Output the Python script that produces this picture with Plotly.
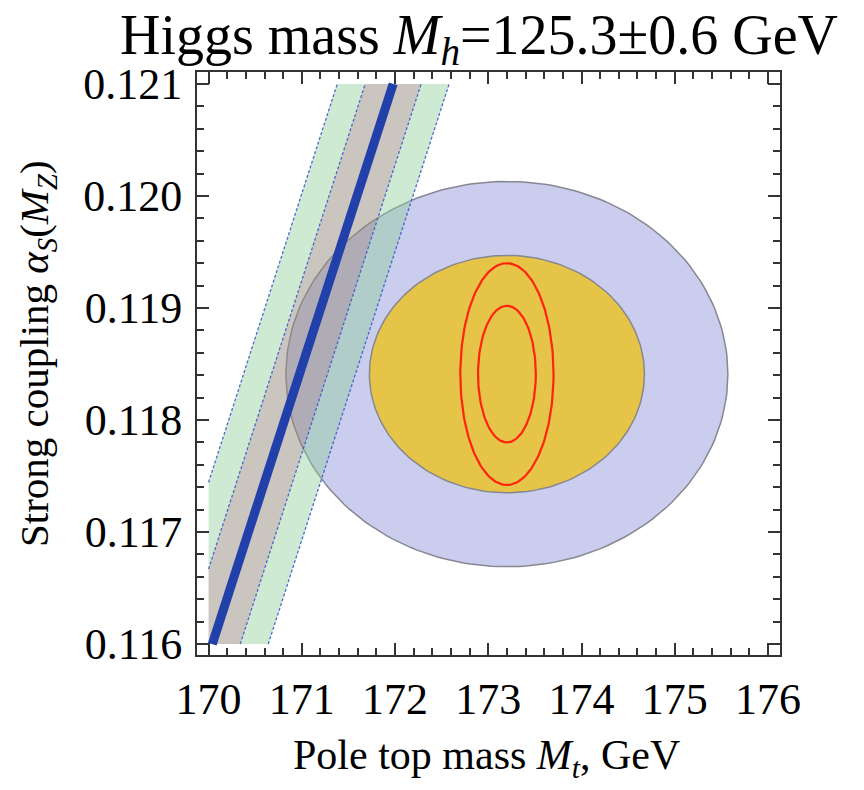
import numpy as np
import plotly.graph_objects as go

# ---------------- data ----------------
x_ticks = [170, 171, 172, 173, 174, 175, 176]
y_ticks = [0.116, 0.117, 0.118, 0.119, 0.120, 0.121]

# Higgs-mass line: pole top mass at alpha_s = 0.116 and 0.121
line_alpha = [0.116, 0.121]
line_mt = [170.04, 171.98]
band_1sigma = 0.30   # half-width in GeV (grey band)
band_2sigma = 0.60   # half-width in GeV (green band)

# measured (Mt, alpha_s) ellipses: centre and semi-axes
meas_center = [173.2, 0.11841]
meas_68 = [1.475, 0.00106]
meas_95 = [2.37, 0.00172]

# future precision (red) ellipses
fut_center = [173.2, 0.11841]
fut_inner = [0.31, 0.00061]
fut_outer = [0.50, 0.00099]

x_range = [169.876, 176.129]
y_range = [0.115902, 0.121107]

FONT = "Liberation Serif"
PAGE = 8          # default page (body) margin of the browser
W, H = 864 - PAGE, 790 - PAGE


def line_x(a):
    return line_mt[0] + (line_mt[1] - line_mt[0]) * (a - line_alpha[0]) / (line_alpha[1] - line_alpha[0])


def clip_xmin(poly, xmin):
    out = []
    n = len(poly)
    for i in range(n):
        p, q = poly[i], poly[(i + 1) % n]
        pin, qin = p[0] >= xmin, q[0] >= xmin
        if pin:
            out.append(p)
        if pin != qin:
            t = (xmin - p[0]) / (q[0] - p[0])
            out.append((xmin, p[1] + t * (q[1] - p[1])))
    return out


def strip(w_lo, w_hi):
    a0, a1 = line_alpha
    poly = [(line_x(a0) + w_lo, a0), (line_x(a0) + w_hi, a0),
            (line_x(a1) + w_hi, a1), (line_x(a1) + w_lo, a1)]
    poly = clip_xmin(poly, x_ticks[0])
    return [p[0] for p in poly], [p[1] for p in poly]


def edge(w):
    a0, a1 = line_alpha
    x0, x1 = line_x(a0) + w, line_x(a1) + w
    if x0 < x_ticks[0]:
        t = (x_ticks[0] - x0) / (x1 - x0)
        a0 = a0 + t * (a1 - a0)
        x0 = x_ticks[0]
    return [x0, x1], [a0, a1]


def ellipse(c, s, n=200):
    t = np.linspace(0, 2 * np.pi, n)
    return c[0] + s[0] * np.cos(t), c[1] + s[1] * np.sin(t)


fig = go.Figure()

# ellipses
ex, ey = ellipse(meas_center, meas_95)
fig.add_trace(go.Scatter(x=ex, y=ey, mode="lines", fill="toself",
                         fillcolor="rgb(203,205,238)",
                         line=dict(color="rgb(135,135,145)", width=1.5),
                         hoverinfo="skip", showlegend=False))
ex, ey = ellipse(meas_center, meas_68)
fig.add_trace(go.Scatter(x=ex, y=ey, mode="lines", fill="toself",
                         fillcolor="rgb(229,196,72)",
                         line=dict(color="rgb(135,135,145)", width=1.5),
                         hoverinfo="skip", showlegend=False))
for s in (fut_outer, fut_inner):
    ex, ey = ellipse(fut_center, s)
    fig.add_trace(go.Scatter(x=ex, y=ey, mode="lines",
                             line=dict(color="rgb(255,35,10)", width=2.2),
                             hoverinfo="skip", showlegend=False))

# bands
green = "rgba(140,205,150,0.42)"
grey = "rgba(150,140,125,0.5)"
for lo, hi, col in [(-band_2sigma, -band_1sigma, green),
                    (band_1sigma, band_2sigma, green),
                    (-band_1sigma, band_1sigma, grey)]:
    bx, by = strip(lo, hi)
    fig.add_trace(go.Scatter(x=bx, y=by, mode="lines", fill="toself",
                             fillcolor=col, line=dict(width=0),
                             hoverinfo="skip", showlegend=False))
for w in (-band_2sigma, -band_1sigma, band_1sigma, band_2sigma):
    lx, ly = edge(w)
    fig.add_trace(go.Scatter(x=lx, y=ly, mode="lines",
                             line=dict(color="rgba(60,90,210,0.9)", width=1.3, dash="3px,2px"),
                             hoverinfo="skip", showlegend=False))

# central line
fig.add_trace(go.Scatter(x=line_mt, y=line_alpha, mode="lines",
                         line=dict(color="rgb(33,64,170)", width=9),
                         hoverinfo="skip", showlegend=False))

axis_common = dict(
    showgrid=False, zeroline=False, showline=True, mirror="ticks",
    linecolor="#333", linewidth=2, automargin=False,
    ticks="inside", ticklen=12, tickwidth=2, tickcolor="#333",
    tickfont=dict(family=FONT, size=44, color="black"),
)

fig.update_xaxes(range=x_range, tickvals=x_ticks,
                 ticktext=[str(v) for v in x_ticks],
                 minor=dict(ticks="inside", ticklen=7, tickwidth=1.5,
                            tickcolor="#333", dtick=0.2, tick0=170, showgrid=False),
                 ticklabelstandoff=4,
                 **axis_common)
fig.update_yaxes(range=y_range, tickvals=y_ticks,
                 ticktext=[f"{v:.3f}" for v in y_ticks],
                 minor=dict(ticks="inside", ticklen=7, tickwidth=1.5,
                            tickcolor="#333", dtick=0.0002, tick0=0.116, showgrid=False),
                 ticklabelstandoff=4,
                 **axis_common)

# plot frame in page pixels: left 197, top 72, right 780, bottom 655
fig.update_layout(
    width=W, height=H,
    margin=dict(l=197 - PAGE, r=W - (780 - PAGE), t=72 - PAGE, b=H - (655 - PAGE), autoexpand=False),
    paper_bgcolor="white", plot_bgcolor="white",
    title=dict(text="Higgs mass <i>M<sub>h</sub></i>=125.3±0.6 GeV",
               font=dict(family=FONT, size=56, color="black"),
               x=(479 - PAGE) / W, xref="container", xanchor="center",
               y=1 - (34 - PAGE) / H, yref="container", yanchor="middle"),
    annotations=[
        dict(text="Pole top mass <i>M<sub>t</sub></i>, GeV",
             xref="paper", yref="paper", x=(486 - 197) / 583, y=(655 - 758) / 583,
             xanchor="center", yanchor="middle", showarrow=False,
             font=dict(family=FONT, size=42, color="black")),
        dict(text="Strong coupling <i>α<sub>S</sub></i>(<i>M<sub>Z</sub></i>)",
             xref="paper", yref="paper", x=(37 - 197) / 583, y=(655 - 354) / 583,
             xanchor="center", yanchor="middle", showarrow=False, textangle=-90,
             font=dict(family=FONT, size=41, color="black")),
    ],
)

fig.write_html("out.html")
